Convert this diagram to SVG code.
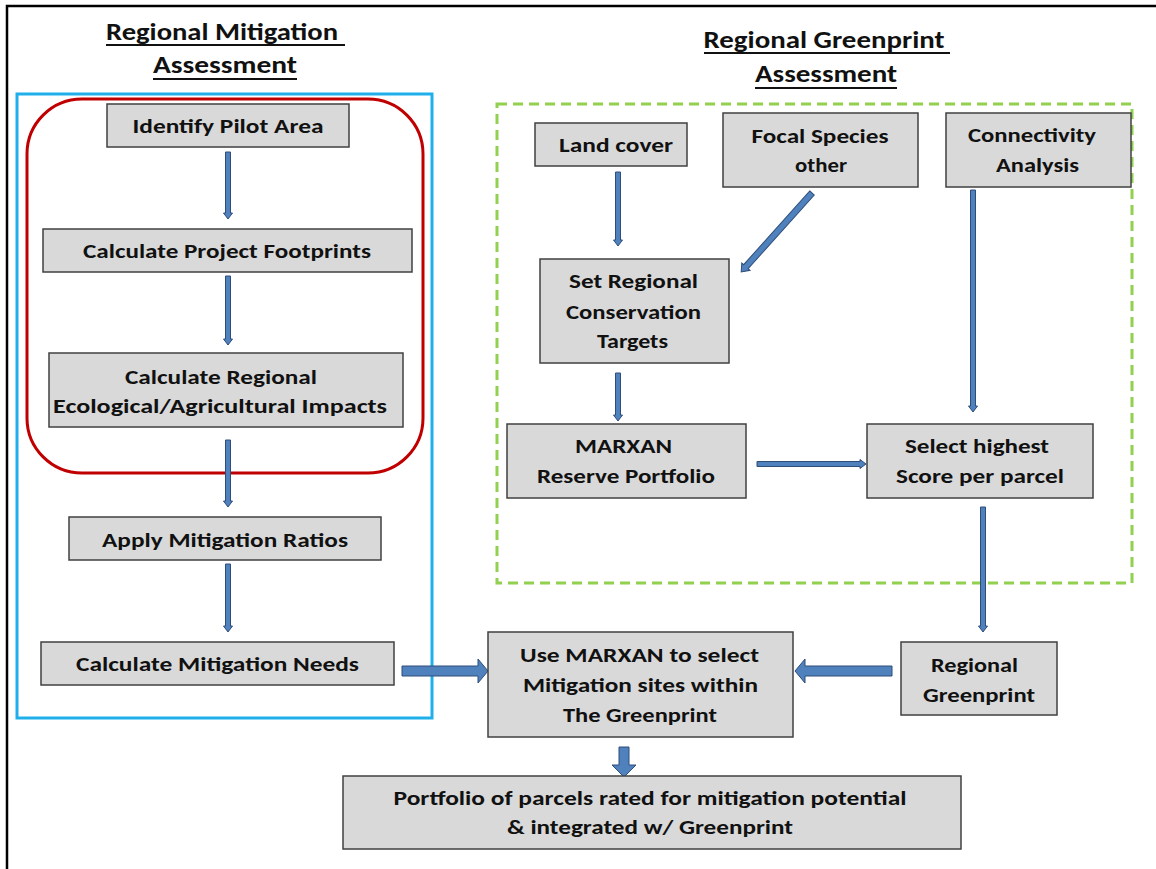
<svg xmlns="http://www.w3.org/2000/svg" width="1156" height="869" viewBox="0 0 1156 869">
<style>
.t{font-family:Carlito,Lato,"Liberation Sans",sans-serif;font-weight:bold;font-size:21px;fill:#111;text-anchor:middle}
.h{font-size:25px}
.box{fill:#D9D9D9;stroke:#404040;stroke-width:1.5}
.ar{fill:#4F81BD;stroke:#2E4D7A;stroke-width:1}
.ul{stroke:#111;stroke-width:2}
</style>
<rect width="1156" height="869" fill="#fff"/>
<path d="M7,869 V6 H1156" fill="none" stroke="#000" stroke-width="2.5"/>

<g id="title-mitigation">
<text class="t h" x="222" y="40" textLength="232" lengthAdjust="spacingAndGlyphs">Regional Mitigation</text>
<line class="ul" x1="106" y1="45" x2="345" y2="45"/>
<text class="t h" x="225" y="73" textLength="144" lengthAdjust="spacingAndGlyphs">Assessment</text>
<line class="ul" x1="153" y1="79" x2="297" y2="79"/>
</g>
<g id="title-greenprint">
<text class="t h" x="824" y="48" textLength="241" lengthAdjust="spacingAndGlyphs">Regional Greenprint</text>
<line class="ul" x1="704" y1="53" x2="950" y2="53"/>
<text class="t h" x="826" y="82" textLength="142" lengthAdjust="spacingAndGlyphs">Assessment</text>
<line class="ul" x1="755" y1="88" x2="897" y2="88"/>
</g>

<g id="groups">
<rect id="mitigation-frame" x="17" y="94" width="415" height="624" fill="none" stroke="#1FB0EC" stroke-width="3"/>
<rect id="impact-frame" x="27" y="99" width="396" height="374" rx="55" ry="55" fill="none" stroke="#C00000" stroke-width="3"/>
<rect id="greenprint-frame" x="497" y="104" width="635" height="479" fill="none" stroke="#92D050" stroke-width="3" stroke-dasharray="10 6"/>
</g>

<g id="connectors">
<path class="ar" d="M225.5,152 H230.5 V213 H232.5 L228,219 L223.5,213 H225.5 Z"/>
<path class="ar" d="M225.5,276 H230.5 V339 H232.5 L228,345 L223.5,339 H225.5 Z"/>
<path class="ar" d="M225.5,440 H230.5 V501 H232.5 L228,507 L223.5,501 H225.5 Z"/>
<path class="ar" d="M225.5,564 H230.5 V626 H232.5 L228,632 L223.5,626 H225.5 Z"/>
<path class="ar" d="M615.5,172 H620.5 V240 H622.5 L618,246 L613.5,240 H615.5 Z"/>
<path class="ar" d="M615.5,373 H620.5 V415 H622.5 L618,421 L613.5,415 H615.5 Z"/>
<path class="ar" transform="translate(812,193) rotate(41.9)" d="M-3,0 H3 V99 H5.5 L0,106 L-5.5,99 H-3 Z"/>
<path class="ar" d="M970.5,190 H975.5 V406 H977.5 L973,412 L968.5,406 H970.5 Z"/>
<path class="ar" d="M757,461.5 H860 V459.5 L866,464 L860,468.5 V466.5 H757 Z"/>
<path class="ar" d="M980.5,507 H985.5 V626 H987.5 L983,632 L978.5,626 H980.5 Z"/>
<path class="ar" d="M402,666 H478 V659 L488,671 L478,683 V676 H402 Z"/>
<path class="ar" d="M892,666 H805 V659 L795,671 L805,683 V676 H892 Z"/>
<path class="ar" d="M619,747 H629 V765 H636 L624,777 L612,765 H619 Z"/>
</g>

<g id="identify-pilot-area">
<rect class="box" x="107" y="104" width="242" height="43"/>
<text class="t" x="228" y="133" textLength="191" lengthAdjust="spacingAndGlyphs">Identify Pilot Area</text>
</g>
<g id="calculate-project-footprints">
<rect class="box" x="43" y="229" width="369" height="43"/>
<text class="t" x="227" y="258" textLength="288" lengthAdjust="spacingAndGlyphs">Calculate Project Footprints</text>
</g>
<g id="calculate-regional-impacts">
<rect class="box" x="49" y="353" width="354" height="74"/>
<text class="t" x="221" y="384" textLength="192" lengthAdjust="spacingAndGlyphs">Calculate Regional</text>
<text class="t" x="220" y="413" textLength="334" lengthAdjust="spacingAndGlyphs">Ecological/Agricultural Impacts</text>
</g>
<g id="apply-mitigation-ratios">
<rect class="box" x="69" y="517" width="312" height="43"/>
<text class="t" x="225" y="547" textLength="246" lengthAdjust="spacingAndGlyphs">Apply Mitigation Ratios</text>
</g>
<g id="calculate-mitigation-needs">
<rect class="box" x="41" y="642" width="353" height="43"/>
<text class="t" x="217.5" y="671" textLength="283" lengthAdjust="spacingAndGlyphs">Calculate Mitigation Needs</text>
</g>

<g id="land-cover">
<rect class="box" x="535" y="123" width="152" height="43"/>
<text class="t" x="616" y="152" textLength="114" lengthAdjust="spacingAndGlyphs">Land cover</text>
</g>
<g id="focal-species">
<rect class="box" x="723" y="113" width="195" height="74"/>
<text class="t" x="820" y="143" textLength="137" lengthAdjust="spacingAndGlyphs">Focal Species</text>
<text class="t" x="821" y="172" textLength="52" lengthAdjust="spacingAndGlyphs">other</text>
</g>
<g id="connectivity-analysis">
<rect class="box" x="946" y="113" width="185" height="74"/>
<text class="t" x="1032" y="142" textLength="128" lengthAdjust="spacingAndGlyphs">Connectivity</text>
<text class="t" x="1037.5" y="172" textLength="83" lengthAdjust="spacingAndGlyphs">Analysis</text>
</g>
<g id="set-targets">
<rect class="box" x="540" y="259" width="189" height="104"/>
<text class="t" x="633.5" y="288" textLength="129" lengthAdjust="spacingAndGlyphs">Set Regional</text>
<text class="t" x="633.5" y="319" textLength="135" lengthAdjust="spacingAndGlyphs">Conservation</text>
<text class="t" x="632.5" y="348" textLength="71" lengthAdjust="spacingAndGlyphs">Targets</text>
</g>
<g id="marxan-reserve-portfolio">
<rect class="box" x="507" y="424" width="239" height="74"/>
<text class="t" x="623.5" y="453" textLength="97" lengthAdjust="spacingAndGlyphs">MARXAN</text>
<text class="t" x="626" y="483" textLength="178" lengthAdjust="spacingAndGlyphs">Reserve Portfolio</text>
</g>
<g id="select-highest">
<rect class="box" x="867" y="424" width="226" height="74"/>
<text class="t" x="977" y="453" textLength="144" lengthAdjust="spacingAndGlyphs">Select highest</text>
<text class="t" x="980" y="483" textLength="168" lengthAdjust="spacingAndGlyphs">Score per parcel</text>
</g>
<g id="regional-greenprint">
<rect class="box" x="901" y="642" width="156" height="73"/>
<text class="t" x="974.5" y="672" textLength="87" lengthAdjust="spacingAndGlyphs">Regional</text>
<text class="t" x="979" y="702" textLength="112" lengthAdjust="spacingAndGlyphs">Greenprint</text>
</g>
<g id="use-marxan">
<rect class="box" x="488" y="632" width="305" height="105"/>
<text class="t" x="639.5" y="662" textLength="239" lengthAdjust="spacingAndGlyphs">Use MARXAN to select</text>
<text class="t" x="640.5" y="692" textLength="235" lengthAdjust="spacingAndGlyphs">Mitigation  sites within</text>
<text class="t" x="640" y="722" textLength="154" lengthAdjust="spacingAndGlyphs">The Greenprint</text>
</g>
<g id="portfolio">
<rect class="box" x="343" y="776" width="618" height="73"/>
<text class="t" x="650" y="805" textLength="513" lengthAdjust="spacingAndGlyphs">Portfolio of parcels rated for mitigation potential</text>
<text class="t" x="650" y="834" textLength="286" lengthAdjust="spacingAndGlyphs">&amp; integrated w/ Greenprint</text>
</g>
</svg>
